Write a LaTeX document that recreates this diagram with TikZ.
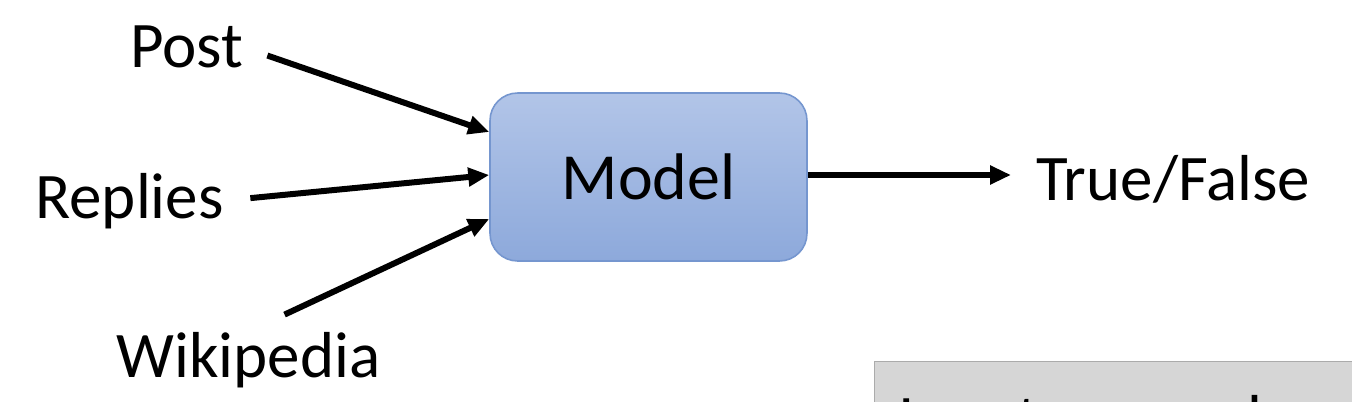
\documentclass[tikz,border=0pt]{standalone}
\usepackage{fontspec}
\setmainfont{Carlito}
\usetikzlibrary{arrows.meta}
\definecolor{boxtop}{HTML}{B2C5E8}
\definecolor{boxbot}{HTML}{8DA9DB}
\definecolor{boxline}{HTML}{7596CF}
\definecolor{notefill}{HTML}{D6D6D6}
\definecolor{noteline}{HTML}{ABABAB}
\begin{document}
\begin{tikzpicture}[x=0.02cm,y=-0.02cm,
  lbl/.style={font=\fontsize{37}{44}\selectfont, inner sep=0pt},
  conn/.style={-{Triangle[length=0.42cm,width=0.36cm]}, line width=0.12cm},
  modelbox/.style={draw=boxline, line width=0.9pt, rounded corners=0.55cm,
    top color=boxtop, bottom color=boxbot, minimum width=6.34cm, minimum height=3.36cm,
    font=\fontsize{37.5}{44}\selectfont, inner sep=0pt},
  notebox/.style={draw=noteline, line width=0.8pt, fill=notefill, minimum width=12cm, minimum height=3cm, inner sep=0pt}]
\useasboundingbox (0,0) rectangle (1352,402);
\clip (0,0) rectangle (1352,402);
\fill[white] (0,0) rectangle (1352,402);
% nodes
\node[lbl, anchor=base west] (post) at (130,68) {Post};
\node[lbl, anchor=base west] (replies) at (35,218) {Replies};
\node[lbl, anchor=base west] (wiki) at (116,377) {Wikipedia};
\node[modelbox] (model) at (648.5,177) {Model};
\node[lbl, anchor=base west] (tf) at (1036,200) {True/False};
\node[notebox, anchor=north west] (note) at (874,361) {};
\node[lbl, anchor=base west] (notetext) at (898,440) {Input: several sources};
% connectors
\draw[conn, shorten <=0.5cm] (post.east) -- ([yshift=0.9cm]model.west);
\draw[conn, shorten <=0.53cm] (replies.east) -- ([yshift=0.04cm]model.west);
\draw[conn, shorten <=0.8cm] (wiki.north) -- ([yshift=-0.84cm]model.west);
\draw[conn, shorten >=0.5cm] ([yshift=0.04cm]model.east) -- ([yshift=0.04cm]model.east -| tf.west);
\end{tikzpicture}
\end{document}
